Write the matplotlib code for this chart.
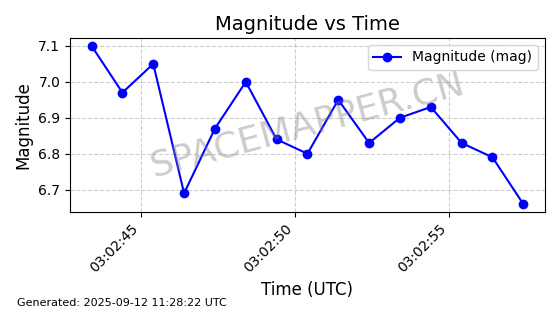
import datetime as dt
import matplotlib
matplotlib.use('Agg')
import matplotlib.pyplot as plt
import matplotlib.dates as mdates

# sample times (UTC) and magnitudes
t0 = dt.datetime(2025, 9, 12, 3, 2, 43, 400000)
offsets = [0, 1, 2, 3, 4, 5, 6, 7, 8, 9, 10, 11, 12, 13, 14]
mags = [7.10, 6.97, 7.05, 6.69, 6.87, 7.00, 6.84, 6.80, 6.95, 6.83, 6.90, 6.93, 6.83, 6.79, 6.66]
times = [t0 + dt.timedelta(seconds=s) for s in offsets]

fig, ax = plt.subplots(figsize=(5.6, 3.14), dpi=100)
fig.subplots_adjust(left=0.125, right=0.973, top=0.879, bottom=0.325)

ax.plot(times, mags, marker='o', color='blue', linestyle='-', label='Magnitude (mag)')
ax.set_title('Magnitude vs Time', fontsize=14)
ax.set_xlabel('Time (UTC)', fontsize=12)
ax.set_ylabel('Magnitude', fontsize=12)
ax.grid(True, linestyle='--', alpha=0.6)
ax.legend(loc='upper right')

ax.xaxis.set_major_locator(mdates.SecondLocator(bysecond=range(0, 60, 5)))
ax.xaxis.set_major_formatter(mdates.DateFormatter('%H:%M:%S'))
plt.setp(ax.get_xticklabels(), rotation=45, ha='right')

# watermark
ax.text(0.5, 0.5, 'SPACEMAPPER.CN', transform=ax.transAxes, fontsize=26,
        color='gray', alpha=0.4, ha='center', va='center', rotation=15)

fig.text(0.03, 0.025, 'Generated: 2025-09-12 11:28:22 UTC', fontsize=8)

fig.savefig('out.png', dpi=100)
